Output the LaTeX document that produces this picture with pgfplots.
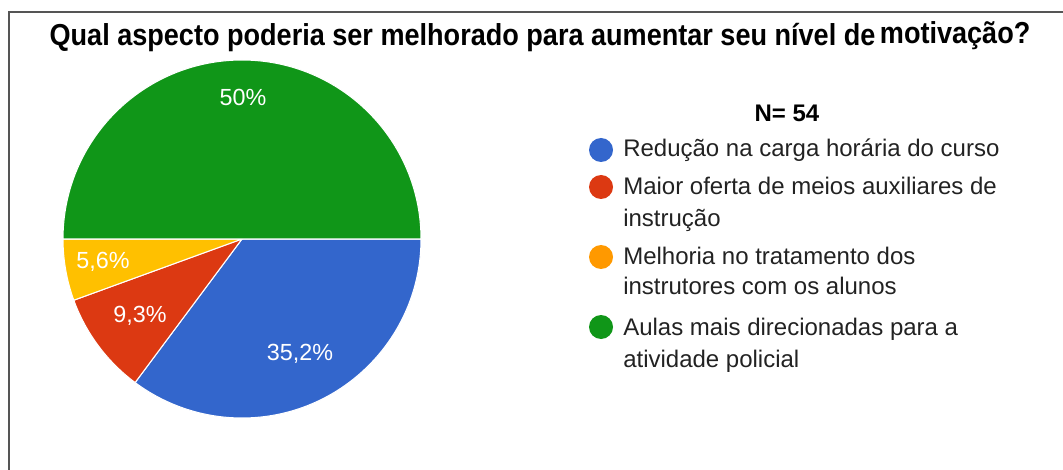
\documentclass[border=0pt]{standalone}
\usepackage{pgfplots}
\pgfplotsset{compat=1.18}
\usepackage{pgfplotstable}
\usepackage{fontspec}
\setmainfont{Liberation Sans}
\definecolor{pBlue}{HTML}{3366CC}
\definecolor{pRed}{HTML}{DC3912}
\definecolor{pYellow}{HTML}{FFC000}
\definecolor{pOrange}{HTML}{FF9900}
\definecolor{pGreen}{HTML}{109618}
\definecolor{legtext}{HTML}{222222}
\definecolor{frame}{HTML}{555555}

% counts out of N = 54, with the percentage labels shown on the chart
\pgfplotstableread{
count pct
19 35,2
5 9,3
3 5,6
27 50
}\piedata

\pgfplotstablegetelem{0}{count}\of\piedata \let\vA\pgfplotsretval
\pgfplotstablegetelem{1}{count}\of\piedata \let\vB\pgfplotsretval
\pgfplotstablegetelem{2}{count}\of\piedata \let\vC\pgfplotsretval
\pgfplotstablegetelem{3}{count}\of\piedata \let\vD\pgfplotsretval
\pgfmathsetmacro\Ntot{\vA+\vB+\vC+\vD}
\pgfmathsetmacro\eA{-360*\vA/\Ntot}
\pgfmathsetmacro\eB{\eA-360*\vB/\Ntot}
\pgfmathsetmacro\eC{\eB-360*\vC/\Ntot}
\pgfmathsetmacro\eD{\eC-360*\vD/\Ntot}
\def\R{134.25pt}

\begin{document}
\begin{tikzpicture}
\begin{axis}[
  width=797.25pt, height=352.5pt, scale only axis,
  xmin=0, xmax=1063, ymin=0, ymax=470, y dir=reverse,
  axis lines=none, ticks=none, clip=false,
]
% frame
\draw[frame, line width=1.5pt] (axis cs:9,470) -- (axis cs:9,12) -- (axis cs:1063,12);
% title
\node[anchor=base, font=\fontsize{20.3}{23}\selectfont\bfseries] at (axis cs:540,46)
  {\scalebox{1}[1.12]{Qual aspecto poderia ser melhorado para aumentar seu nível de\,\raisebox{1.5pt}{motivação?}}};
% pie slices
\filldraw[fill=pBlue, draw=white, line width=0.8pt] (axis cs:242,239) -- ++(0:\R) arc[start angle=0, end angle=\eA, radius=\R] -- cycle;
\filldraw[fill=pRed, draw=white, line width=0.8pt] (axis cs:242,239) -- ++(\eA:\R) arc[start angle=\eA, end angle=\eB, radius=\R] -- cycle;
\filldraw[fill=pYellow, draw=white, line width=0.8pt] (axis cs:242,239) -- ++(\eB:\R) arc[start angle=\eB, end angle=\eC, radius=\R] -- cycle;
\filldraw[fill=pGreen, draw=white, line width=0.8pt] (axis cs:242,239) -- ++(\eC:\R) arc[start angle=\eC, end angle=\eD, radius=\R] -- cycle;
% slice labels
\begin{scope}[every node/.style={text=white, font=\fontsize{17.5}{20}\selectfont}]
\node at (axis cs:243,97) {50\%};
\node at (axis cs:300,354) {35,2\%};
\node at (axis cs:140,316) {9,3\%};
\node at (axis cs:103,262) {5,6\%};
\end{scope}
% legend
\node[anchor=base, font=\fontsize{18}{22}\selectfont\bfseries] at (axis cs:787,122) {N= 54};
\fill[pBlue]   (axis cs:601,150) circle[radius=9pt];
\fill[pRed]    (axis cs:601,187) circle[radius=9pt];
\fill[pOrange] (axis cs:601,257) circle[radius=9pt];
\fill[pGreen]  (axis cs:601,327) circle[radius=9pt];
\begin{scope}[every node/.style={anchor=base west, text=legtext, font=\fontsize{18}{22}\selectfont, inner sep=0pt}]
\node at (axis cs:623,157) {Redução na carga horária do curso};
\node at (axis cs:623,195) {Maior oferta de meios auxiliares de};
\node at (axis cs:623,227) {instrução};
\node at (axis cs:623,265) {Melhoria no tratamento dos};
\node at (axis cs:623,295) {instrutores com os alunos};
\node at (axis cs:623,335) {Aulas mais direcionadas para a};
\node at (axis cs:623,367) {atividade policial};
\end{scope}
\end{axis}
\pgfresetboundingbox
\path (current axis.south west) rectangle (current axis.north east);
\end{tikzpicture}
\end{document}
